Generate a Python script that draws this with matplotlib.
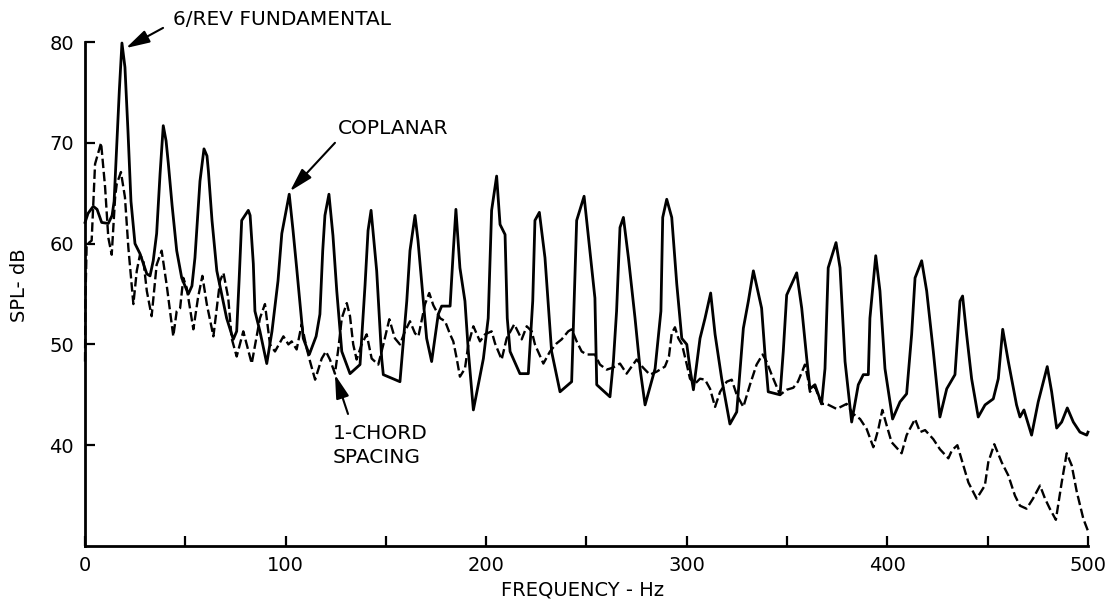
import matplotlib
matplotlib.use("Agg")
import matplotlib.pyplot as plt
from matplotlib.patches import ArrowStyle

# Coplanar rotor spectrum (solid)
freq_coplanar = [
    0.0, 1.5, 4.1, 6.0, 8.3, 11.6, 13.5, 14.5, 15.8, 17.1, 18.4, 19.9, 21.4, 22.9,
    24.9, 27.4, 30.8, 32.4, 34.0, 35.7, 37.4, 39.0, 40.4, 41.5, 43.4, 45.7, 48.2,
    51.5, 53.3, 54.8, 57.3, 59.3, 60.8, 61.5, 63.3, 65.7, 70.6, 73.9, 75.6, 76.8,
    78.1, 81.4, 82.3, 83.9, 84.7, 87.2, 90.6, 93.2, 96.2, 98.1, 101.8, 103.7,
    105.5, 108.8, 111.8, 115.2, 117.1, 118.5, 119.6, 121.6, 123.6, 125.5, 128.0,
    132.1, 137.1, 139.6, 141.1, 142.6, 145.4, 147.9, 148.7, 157.0, 160.4, 162.0,
    164.5, 166.0, 167.9, 170.3, 172.8, 176.1, 177.8, 182.0, 183.6, 184.9, 186.9,
    189.4, 191.1, 193.6, 198.6, 201.0, 202.7, 205.2, 206.9, 209.4, 210.5, 211.9,
    216.8, 221.0, 223.2, 224.3, 226.5, 229.3, 232.6, 236.8, 242.6, 245.1, 248.8,
    251.7, 254.2, 255.1, 261.7, 263.4, 265.0, 266.7, 268.4, 270.9, 274.2, 276.7,
    279.2, 284.2, 287.1, 288.0, 290.0, 292.5, 295.0, 297.5, 300.0, 301.6, 303.3,
    306.6, 309.1, 311.9, 314.1, 317.4, 321.5, 324.9, 328.2, 330.7, 333.2, 337.3,
    339.0, 340.6, 346.5, 348.1, 349.8, 354.8, 357.3, 359.8, 361.4, 363.9, 367.2,
    368.9, 370.5, 374.4, 376.4, 378.9, 382.2, 385.5, 388.0, 390.5, 391.3, 394.2,
    396.3, 398.8, 402.6, 406.3, 409.6, 412.1, 413.8, 417.1, 419.6, 422.9, 426.2,
    429.6, 433.7, 436.2, 437.5, 439.5, 442.0, 445.3, 448.7, 452.8, 455.3, 457.5,
    460.3, 464.4, 466.1, 468.1, 471.9, 475.2, 479.7, 481.9, 484.4, 486.9, 489.7,
    492.7, 496.0, 499.4, 500.0,
]
spl_coplanar = [
    62.1, 63.0, 63.7, 63.4, 62.1, 62.0, 62.8, 64.2, 69.7, 75.2, 79.9, 77.5, 71.2, 64.2,
    60.0, 59.0, 57.0, 56.8, 58.3, 61.0, 66.9, 71.7, 70.2, 68.0, 63.8, 59.3, 56.6,
    55.0, 55.8, 58.6, 66.2, 69.4, 68.7, 67.2, 62.3, 57.3, 52.6, 50.5, 51.3, 56.3,
    62.3, 63.3, 62.8, 58.0, 53.3, 51.3, 48.1, 51.3, 56.3, 61.0, 64.9, 61.3,
    57.6, 50.6, 49.0, 50.8, 53.0, 59.3, 62.8, 64.9, 60.8, 55.3, 49.3,
    47.1, 48.0, 55.9, 61.3, 63.3, 57.3, 48.6, 47.0, 46.3, 54.3, 59.3,
    62.8, 60.3, 56.0, 50.6, 48.3, 53.0, 53.8, 53.8, 59.3, 63.4, 57.6,
    54.3, 49.3, 43.5, 48.6, 52.6, 63.3, 66.7, 61.9, 60.9, 52.6, 49.3,
    47.1, 47.1, 54.3, 62.3, 63.1, 58.6, 49.3, 45.3, 46.3, 62.3, 64.7,
    59.3, 54.6, 46.0, 44.8, 48.3, 53.3, 61.6, 62.6, 58.6, 52.6, 47.6,
    44.0, 47.6, 53.3, 62.6, 64.4, 62.6, 56.0, 50.6, 50.0, 47.6, 45.5,
    50.6, 52.6, 55.1, 51.0, 46.6, 42.1, 43.3, 51.6, 54.3, 57.3, 53.6,
    49.0, 45.3, 45.0, 49.3, 54.9, 57.1, 53.6, 48.6, 45.6, 46.0, 44.1,
    47.6, 57.6, 60.1, 57.6, 48.3, 42.3, 46.0, 47.0, 47.0, 52.6, 58.8,
    55.3, 47.6, 42.6, 44.3, 45.1, 51.0, 56.6, 58.3, 55.3, 49.3, 42.8,
    45.6, 47.0, 54.3, 54.8, 51.0, 46.6, 42.8, 44.0, 44.6, 46.6, 51.5,
    48.3, 44.0, 42.8, 43.5, 41.0, 44.3, 47.8, 45.3, 41.7, 42.3, 43.7,
    42.3, 41.3, 41.0, 41.3,
]

# 1-chord spacing rotor spectrum (dashed)
freq_chord = [
    0.0, 0.2, 0.8, 3.3, 5.0, 8.0, 10.0, 11.6, 13.3, 15.0, 15.8, 17.9, 19.9, 21.6,
    24.1, 25.8, 27.4, 29.1, 30.8, 33.2, 35.7, 38.2, 40.7, 44.0, 45.7, 47.4, 49.0,
    50.7, 54.0, 56.3, 58.5, 60.7, 64.0, 67.3, 69.0, 71.4, 73.1, 75.6, 78.9, 80.6,
    83.1, 87.2, 89.7, 92.2, 94.7, 98.9, 101.4, 103.0, 105.5, 108.0, 110.5, 112.2,
    114.7, 118.0, 120.1, 122.1, 124.6, 126.3, 128.0, 130.5, 132.1, 133.7, 135.4,
    137.9, 140.4, 142.9, 146.2, 149.1, 151.7, 154.5, 157.0, 159.5, 162.0, 164.5,
    166.2, 168.5, 169.5, 171.6, 173.6, 177.0, 179.5, 182.0, 183.6, 185.3, 186.9,
    189.4, 191.1, 193.6, 196.9, 199.4, 202.7, 204.4, 207.7, 210.2, 214.0, 217.7,
    220.2, 222.7, 224.3, 228.5, 231.8, 235.1, 237.6, 240.9, 242.6, 245.1, 247.6,
    250.1, 254.2, 256.7, 260.1, 263.2, 266.7, 270.0, 275.0, 278.2, 281.6, 285.0,
    289.1, 291.1, 292.5, 294.1, 295.8, 297.6, 300.0, 301.6, 304.1, 306.6, 309.1,
    311.6, 314.1, 316.6, 319.9, 322.4, 324.9, 328.2, 331.5, 334.8, 337.8, 339.8,
    342.3, 346.5, 349.8, 353.1, 355.4, 358.9, 360.4, 361.4, 363.9, 365.4, 367.2,
    369.7, 374.7, 379.7, 383.0, 386.4, 389.7, 393.0, 395.5, 397.5, 399.6, 402.1,
    407.1, 409.6, 413.8, 416.3, 418.8, 422.9, 426.2, 430.4, 432.2, 434.9, 437.9,
    440.4, 444.5, 448.6, 450.3, 453.3, 457.0, 460.3, 463.6, 466.1, 469.4, 472.6,
    476.1, 478.6, 481.0, 484.0, 486.9, 489.4, 491.9, 494.4, 497.7, 500.0,
]
spl_chord = [
    48.3, 54.3, 59.9, 60.3, 67.9, 70.0, 65.6, 60.6, 58.9, 64.6, 65.9, 67.1, 64.6, 59.6,
    54.0, 57.3, 58.9, 58.3, 55.3, 52.8, 57.9, 59.3, 55.9, 50.8, 53.3, 53.6, 56.6,
    55.6, 51.5, 54.6, 56.8, 54.0, 50.8, 56.3, 57.1, 54.6, 50.6, 48.8, 51.3, 50.0,
    48.1, 52.6, 54.0, 50.0, 49.3, 50.8, 50.0, 50.3, 49.5, 52.0, 49.6, 48.3,
    46.5, 48.6, 49.3, 48.5, 47.1, 49.6, 52.6, 54.1, 52.8, 50.0, 48.5,
    50.0, 51.0, 48.6, 48.0, 50.3, 52.5, 50.6, 50.0, 51.3, 52.3, 51.1,
    50.8, 53.0, 54.0, 55.1, 53.9, 52.6, 52.3, 51.0, 50.3, 48.6, 46.8,
    47.6, 50.0, 51.8, 50.3, 51.0, 51.3, 50.1, 48.5, 50.6, 52.0, 50.5,
    51.8, 51.3, 50.0, 48.1, 49.3, 50.1, 50.5, 51.3, 51.5, 50.3, 49.3,
    49.0, 49.0, 48.0, 47.5, 47.7, 48.1, 47.1, 48.5, 47.7, 47.0, 47.3,
    47.8, 48.8, 51.1, 51.7, 50.6, 50.0, 48.0, 46.6, 46.1, 46.6, 46.5,
    45.6, 43.8, 45.3, 46.3, 46.5, 45.0, 43.8, 46.0, 48.0, 49.0, 48.3,
    47.0, 45.0, 45.5, 45.7, 46.3, 48.0, 46.6, 45.3, 45.8, 45.0, 44.1,
    44.1, 43.6, 44.1, 43.1, 42.6, 41.6, 39.8, 41.6, 43.5, 42.0, 40.3,
    39.2, 41.0, 42.6, 41.3, 41.5, 40.6, 39.6, 38.7, 39.5, 40.0, 38.0,
    36.3, 34.7, 36.0, 38.3, 40.1, 38.3, 37.0, 35.0, 34.0, 33.7, 34.7,
    36.0, 34.7, 33.7, 32.6, 36.3, 39.2, 38.0, 35.4, 32.7, 31.5,
]

x_major = [0, 100, 200, 300, 400, 500]
x_minor = [50, 150, 250, 350, 450]
y_major = [40, 50, 60, 70, 80]

plt.rcParams['font.family'] = ['DejaVu Sans']

fig = plt.figure(figsize=(11.13, 6.02), dpi=100)
ax = fig.add_axes([0.0764, 0.0930, 0.9011, 0.8372])

ax.plot(freq_coplanar, spl_coplanar, color='black', lw=2.0,
        solid_joinstyle='round', clip_on=False)
ax.plot(freq_chord, spl_chord, color='black', lw=1.7,
        linestyle=(0, (4, 1.6)), clip_on=False)

ax.set_xlim(0, 500)
ax.set_ylim(30, 80)

for side in ('top', 'right'):
    ax.spines[side].set_visible(False)
for side in ('left', 'bottom'):
    ax.spines[side].set_linewidth(2.0)

ax.set_xticks(x_major)
ax.set_xticks(x_minor, minor=True)
ax.set_yticks(y_major)
ax.tick_params(which='both', direction='in', length=7, width=1.6,
               labelsize=14, pad=7)
ax.tick_params(axis='y', pad=8)

ax.text(-0.065, 0.518, 'SPL- dB', transform=ax.transAxes, rotation=90,
        ha='center', va='center', fontsize=14)
ax.text(0.4965, -0.087, 'FREQUENCY - Hz', transform=ax.transAxes,
        ha='center', va='center', fontsize=14)

arrow = dict(arrowstyle=ArrowStyle('-|>', head_length=0.9, head_width=0.25),
             mutation_scale=16, lw=1.5, color='black', shrinkA=0, shrinkB=0)

ax.text(43.9, 82.2, '6/REV FUNDAMENTAL', ha='left', va='center',
        fontsize=14.5, clip_on=False)
ax.annotate('', xy=(20.4, 79.4), xytext=(38.9, 81.4),
            arrowprops=arrow, annotation_clip=False)

ax.text(126.1, 71.4, 'COPLANAR', ha='left', va='center', fontsize=14.5)
ax.annotate('', xy=(102.2, 65.2), xytext=(124.6, 70.0), arrowprops=arrow)

ax.text(123.6, 41.2, '1-CHORD', ha='left', va='center', fontsize=14.5)
ax.text(123.6, 38.8, 'SPACING', ha='left', va='center', fontsize=14.5)
ax.annotate('', xy=(124.6, 47.0), xytext=(131.1, 43.1), arrowprops=arrow)

fig.savefig('out.png', dpi=100)
